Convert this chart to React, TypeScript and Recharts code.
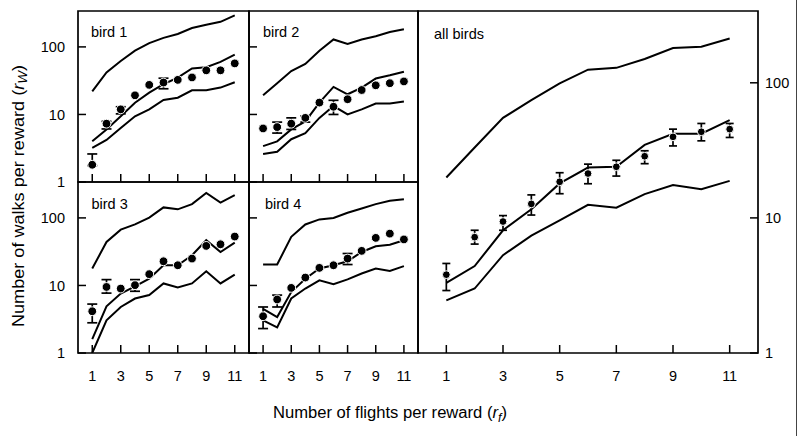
import React from 'react';
import { ComposedChart, Line, Scatter, ErrorBar, XAxis, YAxis, ReferenceArea } from 'recharts';

const FONT = '"Liberation Sans", Arial, Helvetica, sans-serif';

const flights = [1, 2, 3, 4, 5, 6, 7, 8, 9, 10, 11];
const xTicks = [1, 3, 5, 7, 9, 11];
const yTicks = [1, 10, 100];

// bird 1
const bird1Upper = [22, 42, 62, 88, 114, 136, 155, 190, 213, 235, 293];
const bird1Middle = [4.0, 6.0, 9.4, 14.9, 21, 28, 35, 48, 50, 60, 77];
const bird1Lower = [3.2, 4.2, 6.3, 9.4, 11.9, 16.4, 17.7, 22.8, 22.8, 25, 30];
const bird1Mean = [1.8, 7.3, 11.9, 19.2, 27.4, 29.7, 32.5, 35.3, 45, 45, 57];
const bird1Lo = [1.75, 6.1, 10.2, null, null, 24, null, null, null, null, null];
const bird1Hi = [2.6, 7.9, 13.0, null, null, 34.4, null, null, null, null, null];

// bird 2
const bird2Upper = [19.2, 29, 44, 56, 88, 129, 111, 129, 144, 166, 182];
const bird2Middle = [3.4, 4.0, 6.0, 7.9, 15, 25.6, 19.9, 25, 34, 38, 43];
const bird2Lower = [2.6, 2.8, 4.3, 5.3, 8.9, 13.3, 10, 11.9, 14.5, 14.5, 15.5];
const bird2Mean = [6.2, 6.5, 7.3, 8.9, 15, 13.0, 16.8, 23, 27, 29, 30.8];
const bird2Lo = [null, 5.3, 6.0, 7.7, null, 10, null, null, null, null, null];
const bird2Hi = [null, 7.7, 8.9, 9.5, null, 16.2, null, null, null, null, null];

// bird 3
const bird3Upper = [17.8, 44, 67, 80, 101, 143, 134, 160, 234, 168, 217];
const bird3Middle = [1.6, 4.9, 7.6, 9.7, 12.6, 19.9, 19.9, 28, 46.7, 31.3, 43];
const bird3Lower = [1.0, 3.05, 4.8, 6.4, 7.2, 10.7, 9.3, 10.7, 16.2, 10.7, 14.5];
const bird3Mean = [4.15, 9.5, 9.0, 10.1, 14.7, 22.8, 19.9, 25, 38.5, 40.7, 53];
const bird3Lo = [2.8, 7.7, null, 8.2, null, null, null, null, null, null, null];
const bird3Hi = [5.3, 12.2, null, 12.2, null, null, null, null, null, null, null];

// bird 4
const bird4Upper = [20.4, 20.4, 52.4, 80, 95, 100, 119, 138, 160, 179, 189];
const bird4Middle = [4.5, 3.4, 8.0, 12.6, 17.8, 19.9, 22.8, 31.3, 38, 40, 46.7];
const bird4Lower = [3.05, 2.4, 6.4, 9.0, 11.9, 10.4, 12.3, 15, 17.8, 16.4, 19.3];
const bird4Mean = [3.5, 6.2, 9.2, 13.1, 18.2, 19.9, 25, 32.5, 50.6, 58.5, 48];
const bird4Lo = [2.3, 4.8, null, null, null, null, 20.4, null, null, null, null];
const bird4Hi = [4.8, 7.2, null, null, null, null, 29.7, null, null, null, null];

// all birds
const allUpper = [19.9, 33.2, 55, 74.5, 99, 125, 129, 150, 181, 185, 213];
const allMiddle = [3.3, 4.4, 8.1, 11.6, 18, 23.6, 23.9, 34.7, 42, 42, 53];
const allLower = [2.45, 3.0, 5.3, 7.4, 9.6, 12.5, 11.9, 15, 17.5, 16.3, 18.8];
const allMean = [3.8, 7.2, 9.4, 12.7, 18.5, 21.3, 23.9, 28.6, 39.8, 43.4, 45.4];
const allLo = [2.9, 6.4, 8.1, 10.5, 15.1, 17.9, 20.4, 25.2, 34.1, 37.2, 39.4];
const allHi = [4.6, 8.1, 10.4, 14.8, 21.6, 25, 26.7, 31.4, 45.4, 50, 50];

const makeRows = (upper: number[], middle: number[], lower: number[], mean: number[],
  lo: (number | null)[], hi: (number | null)[]) =>
  flights.map((x, i) => ({
    x,
    upper: upper[i],
    middle: middle[i],
    lower: lower[i],
    mean: mean[i],
    err: lo[i] == null ? null : [mean[i] - (lo[i] as number), (hi[i] as number) - mean[i]],
  }));

const tickStyle = { fill: '#000', fontSize: 14.5, fontFamily: FONT };
const blank = () => '';

interface PanelProps {
  rows: any[];
  x0: number; x1: number; y0: number; y1: number;
  leftTicks?: boolean;
  leftLabels?: boolean;
  bottomLabels?: boolean;
  rightAxis?: boolean;
  dotR: number;
  capW: number;
}

const Panel: React.FC<PanelProps> = ({ rows, x0, x1, y0, y1, leftTicks, leftLabels, bottomLabels, rightAxis, dotR, capW }) => {
  const dot = (p: any) => <circle cx={p.cx} cy={p.cy} r={dotR} fill="#000" stroke="#fff" strokeWidth={1} />;
  return (
    <div style={{ position: 'absolute', left: 0, top: 0 }}>
      <ComposedChart
        width={800}
        height={436}
        data={rows}
        margin={{
          top: y0,
          left: leftTicks ? x0 - 40 : x0,
          right: rightAxis ? 800 - x1 - 40 : 800 - x1,
          bottom: 436 - y1 - 30,
        }}
      >
        <XAxis
          dataKey="x"
          type="number"
          domain={[0, 12]}
          ticks={xTicks}
          interval={0}
          height={30}
          axisLine={false}
          tickSize={-8}
          tickMargin={26}
          tickLine={{ stroke: '#000', strokeWidth: 1.5 }}
          tick={tickStyle}
          tickFormatter={bottomLabels ? undefined : blank}
        />
        <YAxis
          type="number"
          scale="log"
          domain={[1, 340]}
          allowDataOverflow
          ticks={yTicks}
          interval={0}
          orientation={rightAxis ? 'right' : 'left'}
          width={40}
          axisLine={false}
          tickSize={-8}
          tickMargin={rightAxis ? 15 : 21}
          tickLine={{ stroke: '#000', strokeWidth: 1.5 }}
          tick={tickStyle}
          tickFormatter={leftLabels || rightAxis ? undefined : blank}
        />
        <ReferenceArea x1={0} x2={12} y1={1} y2={340} fill="none" fillOpacity={0} stroke="#000" strokeWidth={1.7} ifOverflow="visible" />
        <Line dataKey="upper" stroke="#000" strokeWidth={2} dot={false} isAnimationActive={false} />
        <Line dataKey="middle" stroke="#000" strokeWidth={2} dot={false} isAnimationActive={false} />
        <Line dataKey="lower" stroke="#000" strokeWidth={2} dot={false} isAnimationActive={false} />
        <Scatter dataKey="mean" fill="#000" shape={dot} isAnimationActive={false}>
          <ErrorBar dataKey="err" direction="y" width={capW} stroke="#000" strokeWidth={1.7} isAnimationActive={false} />
        </Scatter>
      </ComposedChart>
    </div>
  );
};

const App: React.FC = () => {
  const text = { fontFamily: FONT, fill: '#000' };
  return (
    <div style={{ position: 'absolute', left: 0, top: 0, width: 800, height: 436, background: '#fff', overflow: 'hidden' }}>
      <Panel rows={makeRows(bird1Upper, bird1Middle, bird1Lower, bird1Mean, bird1Lo, bird1Hi)}
        x0={78} x1={249} y0={11} y1={182} leftTicks leftLabels dotR={4.4} capW={5} />
      <Panel rows={makeRows(bird2Upper, bird2Middle, bird2Lower, bird2Mean, bird2Lo, bird2Hi)}
        x0={249} x1={418} y0={11} y1={182} leftTicks dotR={4.4} capW={5} />
      <Panel rows={makeRows(bird3Upper, bird3Middle, bird3Lower, bird3Mean, bird3Lo, bird3Hi)}
        x0={78} x1={249} y0={182} y1={353} leftTicks leftLabels bottomLabels dotR={4.4} capW={5} />
      <Panel rows={makeRows(bird4Upper, bird4Middle, bird4Lower, bird4Mean, bird4Lo, bird4Hi)}
        x0={249} x1={418} y0={182} y1={353} leftTicks bottomLabels dotR={4.4} capW={5} />
      <Panel rows={makeRows(allUpper, allMiddle, allLower, allMean, allLo, allHi)}
        x0={418} x1={758} y0={11} y1={353} rightAxis bottomLabels dotR={3.9} capW={4} />

      <svg width={800} height={436} style={{ position: 'absolute', left: 0, top: 0, pointerEvents: 'none' }}>
        <text x={91} y={36.5} fontSize={14.5} {...text}>bird 1</text>
        <text x={263} y={36.5} fontSize={14.5} {...text}>bird 2</text>
        <text x={91.5} y={209} fontSize={14.5} {...text}>bird 3</text>
        <text x={265} y={209} fontSize={14.5} {...text}>bird 4</text>
        <text x={434} y={39} fontSize={14.5} {...text}>all birds</text>
        <text x={390} y={418} fontSize={16} textAnchor="middle" textLength={234} lengthAdjust="spacingAndGlyphs" {...text}>
          Number of flights per reward (<tspan fontStyle="italic">r</tspan>
          <tspan fontStyle="italic" fontSize={12} dy={4}>f</tspan>
          <tspan dy={-4}>)</tspan>
        </text>
        <text transform="translate(24, 196) rotate(-90)" fontSize={16} textAnchor="middle" textLength={262} lengthAdjust="spacingAndGlyphs" {...text}>
          Number of walks per reward (<tspan fontStyle="italic">r</tspan>
          <tspan fontStyle="italic" fontSize={12} dy={3}>W</tspan>
          <tspan dy={-3}>)</tspan>
        </text>
      </svg>
      <div style={{ position: 'absolute', left: 796, top: 0, width: 1, height: 436, background: '#444' }} />
    </div>
  );
};

export default App;
